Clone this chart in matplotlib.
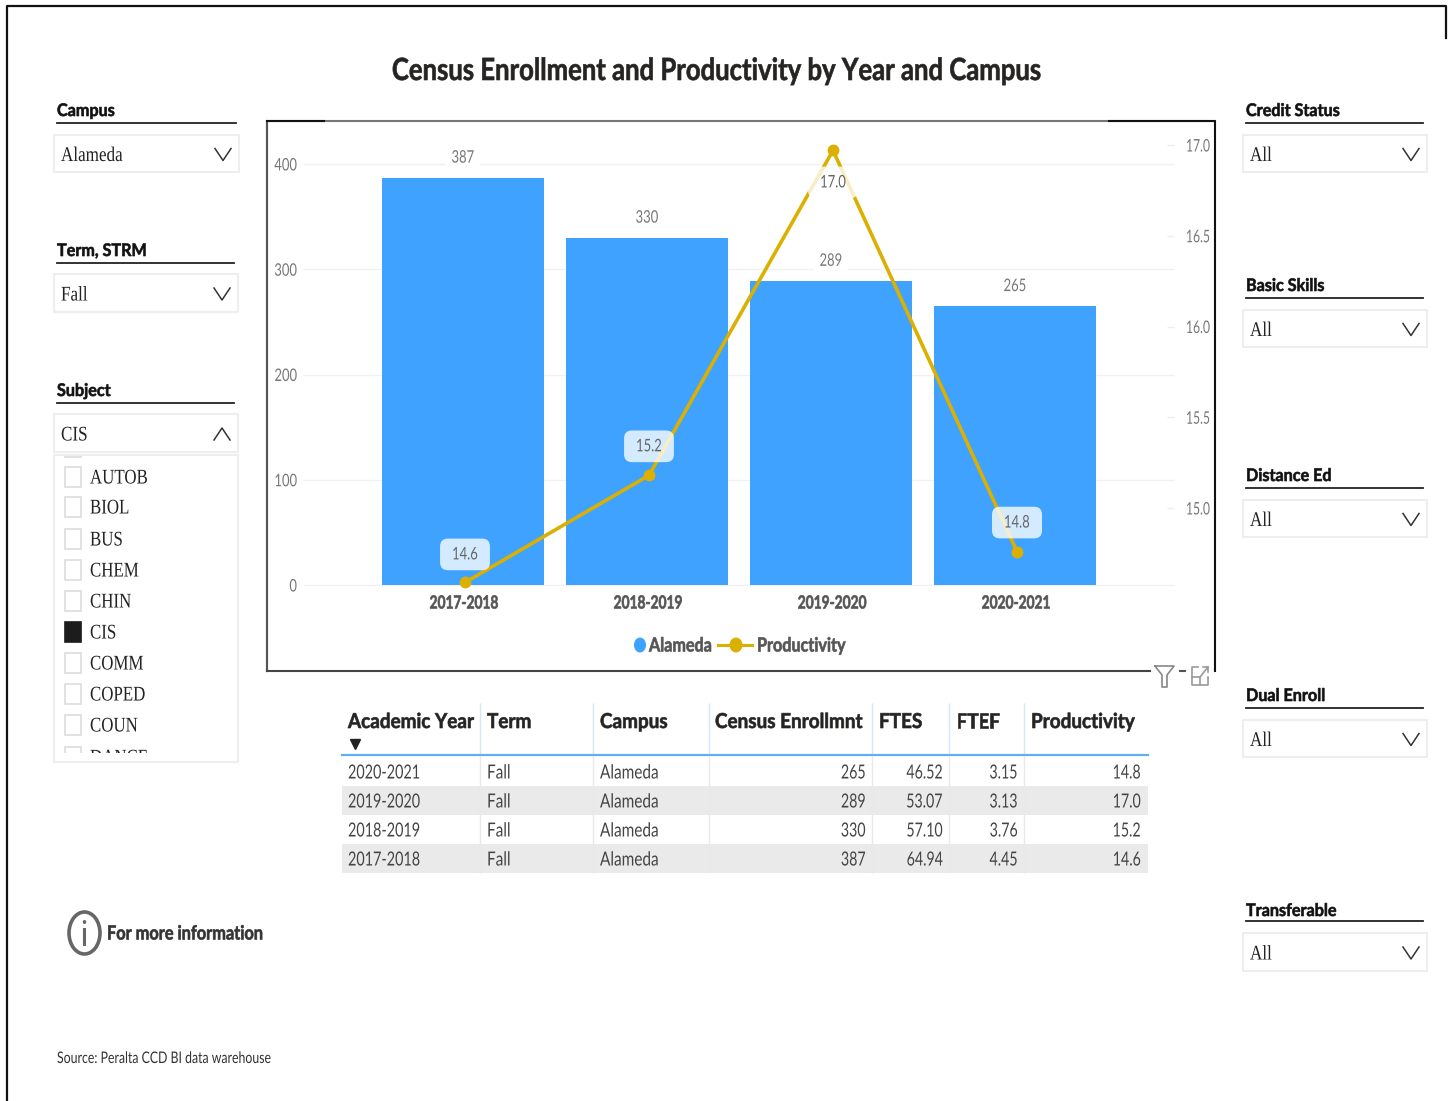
import matplotlib
matplotlib.use("Agg")
import matplotlib.pyplot as plt
from matplotlib.patches import Rectangle, Ellipse
from matplotlib.patheffects import AbstractPathEffect
from matplotlib.transforms import Affine2D

plt.rcParams['font.family'] = ['Lato', 'DejaVu Sans']

# chart data
years = ["2017-2018", "2018-2019", "2019-2020", "2020-2021"]
enroll = [387, 330, 289, 265]
productivity = [14.59, 15.18, 16.97, 14.76]
prod_labels = ["14.6", "15.2", "17.0", "14.8"]
left_ticks = [0, 100, 200, 300, 400]
right_ticks = [15.0, 15.5, 16.0, 16.5, 17.0]

# table data
table_cols = ["Academic Year", "Term", "Campus", "Census Enrollmnt", "FTES", "FTEF", "Productivity"]
t_year = ["2020-2021", "2019-2020", "2018-2019", "2017-2018"]
t_term = ["Fall", "Fall", "Fall", "Fall"]
t_campus = ["Alameda", "Alameda", "Alameda", "Alameda"]
t_enroll = ["265", "289", "330", "387"]
t_ftes = ["46.52", "53.07", "57.10", "64.94"]
t_ftef = ["3.15", "3.13", "3.76", "4.45"]
t_prod = ["14.8", "17.0", "15.2", "14.6"]

subjects = ["AUTOB", "BIOL", "BUS", "CHEM", "CHIN", "CIS", "COMM", "COPED", "COUN", "DANCE"]

BLUE = "#3fa2ff"
GOLD = "#dcb000"
GREY = "#777777"
DARK = "#252423"
SERIF = "Liberation Serif"

W, H = 1450, 1101


class Squeeze(AbstractPathEffect):
    # the reference screenshot is squashed sideways, so narrow the glyphs too
    def __init__(self, sx, ha="left", stroke=0.0):
        super().__init__()
        self.sx = sx
        self.ha = ha
        self.stroke = stroke

    def draw_path(self, renderer, gc, tpath, affine, rgbFace=None):
        xs = tpath.vertices[:, 0]
        x0 = {"left": xs.min(), "center": (xs.min() + xs.max()) / 2, "right": xs.max()}[self.ha]
        sq = Affine2D().translate(-x0, 0).scale(self.sx, 1).translate(x0, 0)
        gc0 = renderer.new_gc()
        gc0.copy_properties(gc)
        gc0.set_linewidth(self.stroke)
        renderer.draw_path(gc0, tpath, sq + affine, rgbFace)
        gc0.restore()


fig = plt.figure(figsize=(W / 100, H / 100), dpi=100)

# overlay in pixel coordinates for the report page
pg = fig.add_axes([0, 0, 1, 1])
pg.set_xlim(0, W)
pg.set_ylim(H, 0)
pg.axis("off")


def label(x, y, s, size, sq=0.9, ha="left", bold=False, color=DARK, family=None):
    t = pg.text(x, y, s, ha=ha, va="center", fontsize=size, color=color,
                fontweight="bold" if bold else "normal")
    if family:
        t.set_family(family)
    t.set_path_effects([Squeeze(sq, ha, 0.45 if bold else 0.0)])
    return t


# page frame
pg.plot([7, 7, 1446, 1446], [H, 6, 6, 38], color="#111111", lw=1.6)

label(716, 71, "Census Enrollment and Productivity by Year and Campus", 22, 0.84, ha="center", bold=True)


def chevron(x, y, up=False):
    d = -6 if up else 6
    pg.plot([x - 8, x, x + 8], [y - d, y + d, y - d], color="#333333", lw=1.1)


def slicer(title, value, x0, x1, title_y, line_y, box_y0, box_y1, lx0, lx1, up=False):
    label(lx0, title_y + 1, title, 12.5, 0.93, bold=True, color="#111111")
    pg.plot([lx0, lx1], [line_y, line_y], color="#222222", lw=1.3)
    pg.add_patch(Rectangle((x0, box_y0), x1 - x0, box_y1 - box_y0, fc="white", ec="#eeeeee", lw=1.5))
    label(x0 + 7, (box_y0 + box_y1) / 2 + 3, value, 15, 0.82, color="#222222", family=SERIF)
    chevron(x1 - 16, (box_y0 + box_y1) / 2 + 1, up)


slicer("Campus", "Alameda", 54, 239, 110, 123, 135, 172, 57, 236)
slicer("Term, STRM", "Fall", 54, 238, 250, 263, 274, 312, 57, 234)
slicer("Subject", "CIS", 54, 238, 390, 403, 414, 452, 57, 234, up=True)
slicer("Credit Status", "All", 1243, 1427, 110, 123, 135, 172, 1246, 1423)
slicer("Basic Skills", "All", 1243, 1427, 285, 298, 310, 347, 1246, 1423)
slicer("Distance Ed", "All", 1243, 1427, 475, 488, 500, 537, 1246, 1423)
slicer("Dual Enroll", "All", 1243, 1427, 695, 708, 720, 757, 1246, 1423)
slicer("Transferable", "All", 1243, 1427, 910, 921, 933, 971, 1246, 1423)

# subject list
pg.add_patch(Rectangle((54, 455), 184, 307, fc="white", ec="#eeeeee", lw=1.5))
clip = Rectangle((55, 456), 182, 297, transform=pg.transData)
stub = Rectangle((65, 437), 16, 20, fc="white", ec="#dddddd", lw=1.2)
pg.add_patch(stub)
stub.set_clip_path(clip)
item_y = [477, 507, 539, 570, 601, 632, 663, 694, 725, 757]
for name, y in zip(subjects, item_y):
    on = name == "CIS"
    box = Rectangle((65, y - 10), 16, 20, fc="#1c1c1c" if on else "white", ec="#1c1c1c" if on else "#dddddd", lw=1.2)
    pg.add_patch(box)
    box.set_clip_path(clip)
    t = label(90, y + 2, name, 15, 0.81, color="#222222", family=SERIF)
    t.set_clip_on(True)
    t.set_clip_path(clip)

# chart frame
pg.plot([267, 267, 1215], [671, 121, 121], color="#777777", lw=1.5)
pg.plot([267, 267], [671, 121], color="#555555", lw=1.5)
pg.plot([267, 324], [121, 121], color="#111111", lw=1.5)
pg.plot([1109, 1215, 1215], [121, 121, 671], color="#111111", lw=1.5)
pg.plot([267, 1150], [671, 671], color="#444444", lw=1.5)

# filter and expand icons
pg.plot([1155, 1174, 1167, 1167, 1162, 1162, 1155], [666, 666, 675, 687, 687, 675, 666], color="#888888", lw=1.2)
pg.plot([1180, 1185], [671, 671], color="#555555", lw=1.5)
pg.plot([1198, 1192, 1192, 1208, 1208], [667, 667, 685, 685, 677], color="#999999", lw=1.2)
pg.plot([1192, 1200, 1200], [677, 677, 685], color="#999999", lw=1.2)
pg.plot([1200, 1208], [677, 667], color="#999999", lw=1.2)
pg.plot([1203, 1208, 1208], [667, 667, 672], color="#999999", lw=1.2)

# chart axes: same rectangle as the frame
rect = [267 / W, 1 - 671 / H, (1215 - 267) / W, (671 - 121) / H]
ax = fig.add_axes(rect)
ax.patch.set_alpha(0)
ax.set_xlim((267 - 463) / 184, (1215 - 463) / 184)
ax.set_ylim(-(671 - 585) / 1.0525, (585 - 121) / 1.0525)
for s in ax.spines.values():
    s.set_visible(False)
ax.hlines(left_ticks, (303 - 463) / 184, (1174 - 463) / 184, color="#f1f1f1", lw=1, zorder=1)
ax.bar(range(4), enroll, width=162 / 184, color=BLUE, zorder=2)
for i, v in enumerate(enroll):
    a = ax.annotate(str(v), (i, v), xytext=(0, 20), textcoords="offset pixels", ha="center", va="center",
                    fontsize=12.5, color=GREY, zorder=3,
                    bbox=dict(fc="white", ec="none", pad=1))
    a.set_path_effects([Squeeze(0.75, "center")])
ax.set_xticks([])
ax.set_yticks(left_ticks, [str(v) for v in left_ticks], fontsize=12.5, color=GREY)
ax.tick_params(length=0)
ax.tick_params(axis="y", pad=-21.6)
for lab in ax.get_yticklabels():
    lab.set_path_effects([Squeeze(0.75, "right")])

# x labels sit just under the bars, not at the axes bottom
for i, y in enumerate(years):
    a = ax.annotate(y, (i, 0), xytext=(1, -18), textcoords="offset pixels", ha="center", va="center",
                    fontsize=13, fontweight="bold", color="#555555")
    a.set_path_effects([Squeeze(0.76, "center", 0.45)])

# productivity on its own scale
ax2 = fig.add_axes(rect)
ax2.patch.set_alpha(0)
ax2.set_xlim((267 - 465) / 184, (1215 - 465) / 184)
ax2.set_ylim(15 - (671 - 508) / 181.5, 15 + (508 - 121) / 181.5)
for s in ax2.spines.values():
    s.set_visible(False)
ax2.plot(range(4), productivity, color=GOLD, lw=2.6, marker="o", ms=7.5, zorder=3, solid_capstyle="round")
ax2.set_xticks([])
ax2.yaxis.tick_right()
ax2.set_yticks(right_ticks, [f"{v:.1f}" for v in right_ticks], fontsize=12.5, color=GREY)
ax2.tick_params(axis="y", length=0, pad=-20.9)
for lab in ax2.get_yticklabels():
    lab.set_path_effects([Squeeze(0.7, "left")])
ax2.hlines(right_ticks, (1167 - 465) / 184, (1174 - 465) / 184, color="#eeeeee", lw=1)

label_off = [28, 29, -32, 29]
for i, lab in enumerate(prod_labels):
    a = ax2.annotate(lab, (i, productivity[i]), xytext=(0, label_off[i]), textcoords="offset pixels",
                     ha="center", va="center", fontsize=12.5, color="#666666", zorder=4,
                     bbox=dict(boxstyle="round,pad=0.45", fc="white", ec="none", alpha=0.78))
    a.set_path_effects([Squeeze(0.75, "center")])

# legend
pg.add_patch(Ellipse((640, 645), 12, 15, fc=BLUE, ec="none"))
label(649, 646, "Alameda", 14, 0.83, bold=True, color="#555555")
pg.plot([718, 752], [645, 645], color=GOLD, lw=2.2)
pg.add_patch(Ellipse((736, 645), 13, 15, fc=GOLD, ec="none", zorder=3))
label(757, 646, "Productivity", 14, 0.83, bold=True, color="#555555")

# table
seps = [480, 593, 709, 872, 949, 1024]
col_x = [348, 487, 600, 715, 879, 956, 1031]
num_x = [866, 943, 1018, 1141]
row_y = [773, 802, 831, 860]
pg.add_patch(Rectangle((342, 786), 806, 29, fc="#eaeaea", ec="none"))
pg.add_patch(Rectangle((342, 844), 806, 29, fc="#eaeaea", ec="none"))
pg.vlines(seps, 703, 754, color="#d6e6f6", lw=1)
pg.vlines(seps, 756, 873, color="#e6e9ee", lw=1)
pg.plot([342, 1148], [754.5, 754.5], color="#62aef5", lw=1.6)
for x, name in zip(col_x, table_cols):
    label(x, 722, name, 14.8, 0.92, bold=True)
pg.plot([355], [744], marker="v", ms=7, color="#222222")
for i, y in enumerate(row_y):
    for x, col in zip(col_x[:3], [t_year, t_term, t_campus]):
        label(x, y, col[i], 14, 0.74 if col is t_year else 0.79, color="#444444")
    for x, col in zip(num_x, [t_enroll, t_ftes, t_ftef, t_prod]):
        label(x, y, col[i], 14, 0.73, ha="right", color="#444444")

# info note and source
pg.add_patch(Ellipse((84.5, 933), 31, 42, fc="white", ec="#666666", lw=2.6))
pg.plot([84.5, 84.5], [929, 944], color="#666666", lw=2.2)
pg.add_patch(Ellipse((84.5, 922), 3.5, 4, fc="#666666", ec="none"))
label(107, 934, "For more information", 14, 0.84, bold=True, color="#333333")
label(57, 1059, "Source: Peralta CCD BI data warehouse", 11.5, 0.77, color="#333333")

fig.savefig("out.png", dpi=100)
